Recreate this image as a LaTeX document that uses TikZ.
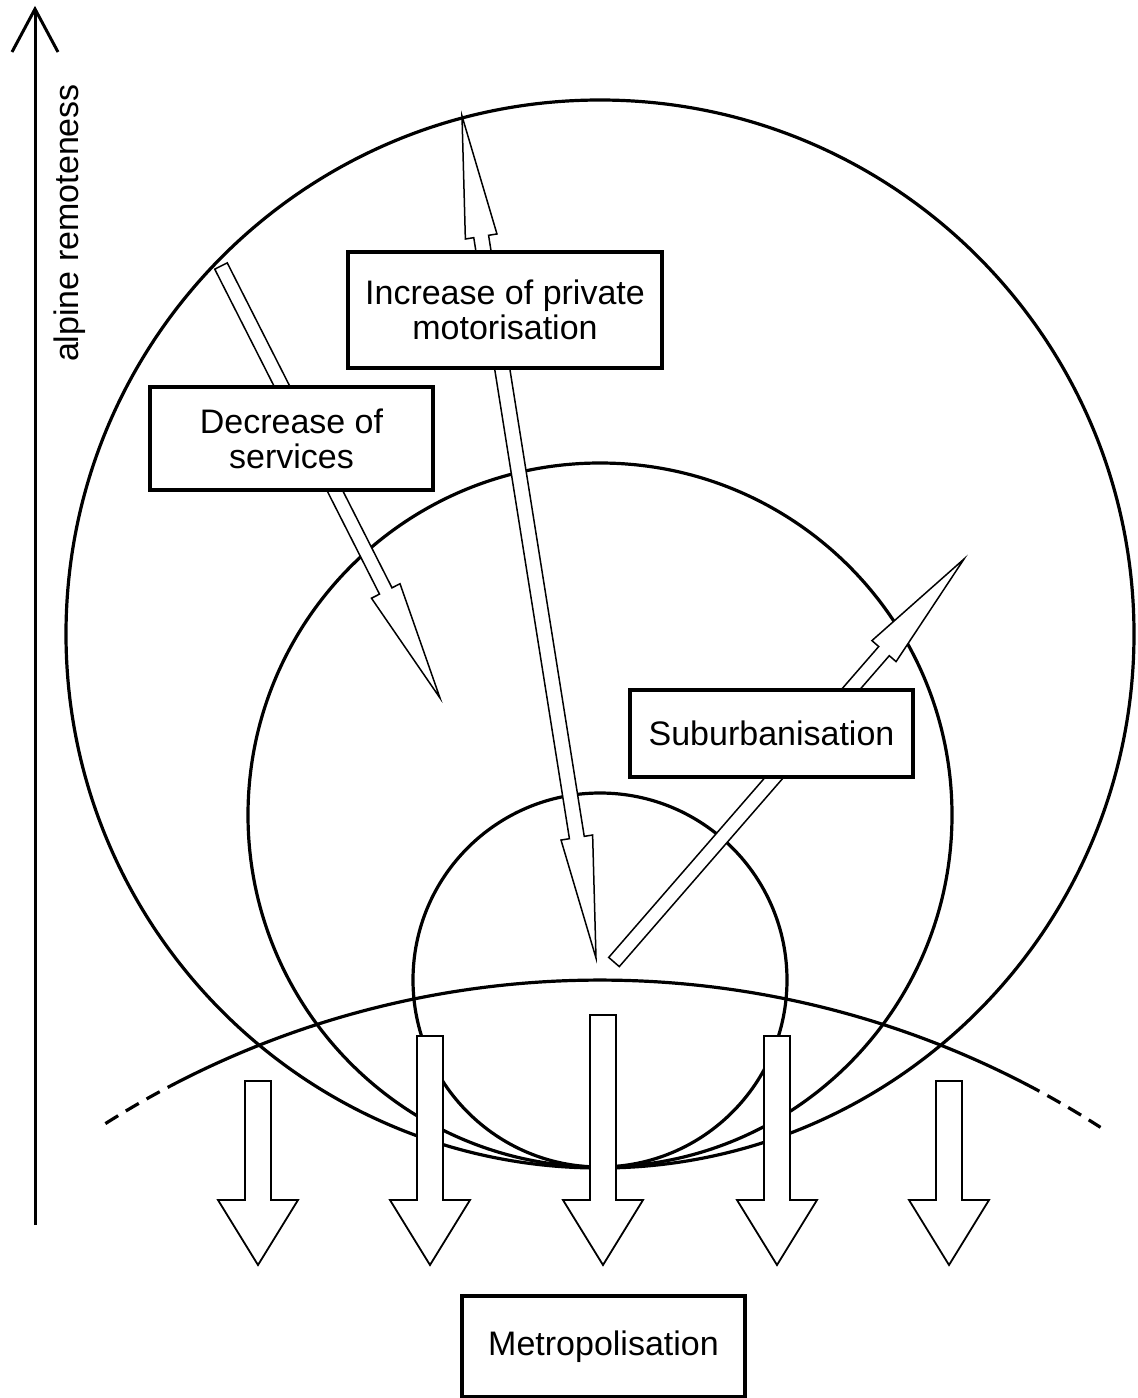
\documentclass[tikz,border=0pt]{standalone}
\usepackage{fontspec}
\setmainfont{Liberation Sans}
\usetikzlibrary{calc}

\tikzset{
  ring/.style={line width=3.2pt},
  hollow/.style={draw=black, fill=white, line width=1.5pt, line join=miter},
  downhollow/.style={draw=black, fill=white, line width=1.8pt, line join=miter},
  labelbox/.style={draw=black, fill=white, line width=4pt, inner sep=0pt, align=center,
    font=\fontsize{34pt}{35pt}\selectfont},
  axisline/.style={line width=3pt},
}

% hollow arrow with one head: tail, tip, head length
\newcommand\slimarrow[3]{%
  \coordinate (hb) at ($(#2)!#3!(#1)$);
  \filldraw[hollow]
    ($(#1)!7pt!90:(#2)$) -- ($(hb)!7pt!-90:(#1)$) -- ($(hb)!16pt!-90:(#1)$) -- (#2)
    -- ($(hb)!16pt!90:(#1)$) -- ($(hb)!7pt!90:(#1)$) -- ($(#1)!7pt!-90:(#2)$) -- cycle;
}
% hollow arrow with a head at both ends: tip, tip, head length
\newcommand\twinarrow[3]{%
  \coordinate (ha) at ($(#1)!#3!(#2)$);
  \coordinate (hz) at ($(#2)!#3!(#1)$);
  \filldraw[hollow]
    (#1) -- ($(ha)!16pt!90:(#2)$) -- ($(ha)!7.5pt!90:(#2)$) -- ($(hz)!7.5pt!-90:(#1)$)
    -- ($(hz)!16pt!-90:(#1)$) -- (#2) -- ($(hz)!16pt!90:(#1)$) -- ($(hz)!7.5pt!90:(#1)$)
    -- ($(ha)!7.5pt!-90:(#2)$) -- ($(ha)!16pt!-90:(#2)$) -- cycle;
}
% broad downward arrow: centre x, top y
\newcommand\metroarrow[2]{%
  \filldraw[downhollow]
    ({#1-13},#2) -- ({#1+13},#2) -- ({#1+13},1200) -- ({#1+40},1200) -- (#1,1265)
    -- ({#1-40},1200) -- ({#1-13},1200) -- cycle;
}

\begin{document}
\begin{tikzpicture}[x=1pt,y=-1pt]
\useasboundingbox (0,0) rectangle (1138,1398);

% three nested zones, all touching at the bottom
\draw[ring] (600,634) circle[radius=534];
\draw[ring] (600,815) circle[radius=352];
\draw[ring] (600,980) circle[radius=187];

% edge of the metropolitan area
\coordinate (metroC) at (600,1904);
\draw[ring] ($(metroC)+(-117.9:924)$) arc[start angle=-117.9, end angle=-61.6, radius=924];
\draw[ring, dash pattern=on 15pt off 9pt, dash phase=15pt]
  ($(metroC)+(-117.9:924)$) arc[start angle=-117.9, end angle=-122.6, radius=924];
\draw[ring, dash pattern=on 15pt off 9pt, dash phase=15pt]
  ($(metroC)+(-61.6:924)$) arc[start angle=-61.6, end angle=-57.2, radius=924];

% flows
\coordinate (svcTail) at (221,266);
\coordinate (svcTip) at (440,698);
\coordinate (motTop) at (462,116);
\coordinate (motBot) at (596,958);
\coordinate (subTail) at (614,962);
\coordinate (subTip) at (964,559);
\slimarrow{svcTail}{svcTip}{120pt}
\twinarrow{motTop}{motBot}{122pt}
\slimarrow{subTail}{subTip}{122pt}

\metroarrow{258}{1081}
\metroarrow{430}{1036}
\metroarrow{603}{1015}
\metroarrow{777}{1036}
\metroarrow{949}{1081}

% labels
\node[labelbox, minimum width=314pt, minimum height=116pt] (motor) at (505,310)
  {Increase of private\\motorisation};
\node[labelbox, minimum width=283pt, minimum height=103pt] (services) at (291.5,438.5)
  {Decrease of\\services};
\node[labelbox, minimum width=283pt, minimum height=87pt] (suburb) at (771.5,733.5)
  {Suburbanisation};
\node[labelbox, minimum width=283pt, minimum height=101pt] (metro) at (603.5,1346.5)
  {Metropolisation};

% remoteness axis
\coordinate (axisBot) at (35,1225);
\coordinate (axisTop) at (35,9);
\draw[axisline] (axisBot) -- (axisTop);
\draw[axisline, line join=miter] (12,52) -- (axisTop) -- (58,52);
\node[rotate=90, font=\fontsize{34pt}{35pt}\selectfont] (axislabel) at (70,223)
  {alpine remoteness};
\end{tikzpicture}
\end{document}
